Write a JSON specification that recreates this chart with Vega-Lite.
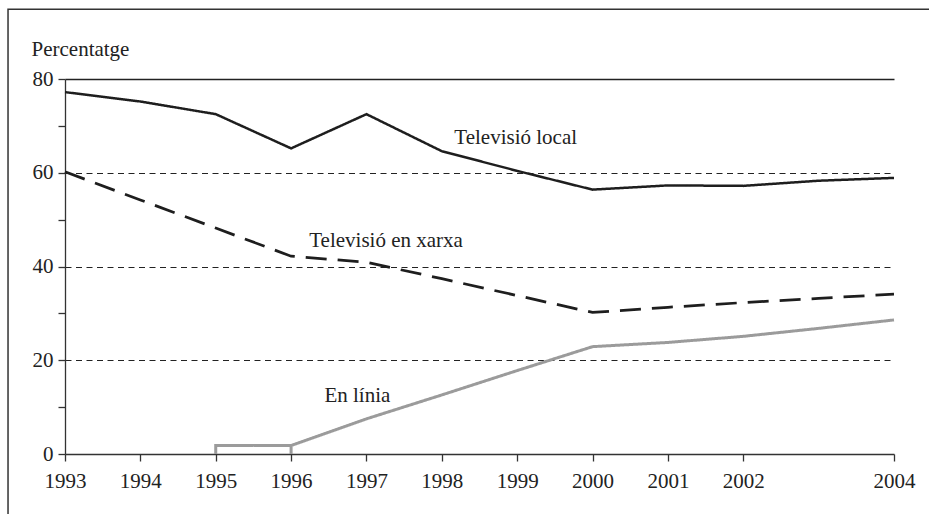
{
  "$schema": "https://vega.github.io/schema/vega-lite/v6.json",
  "autosize": {"type": "none"},
  "padding": {"left": 65, "top": 79, "right": 35, "bottom": 60},
  "width": 829,
  "height": 375,
  "background": "white",
  "config": {
    "view": {"stroke": null},
    "font": "Liberation Serif",
    "axis": {
      "labelFont": "Liberation Serif",
      "labelFontSize": 21,
      "labelColor": "#222222",
      "labelFlush": false,
      "labelOverlap": false,
      "titleFont": "Liberation Serif",
      "titleFontSize": 21,
      "titleFontWeight": "normal",
      "titleColor": "#222222",
      "domainColor": "#333333",
      "domainWidth": 1.3,
      "tickColor": "#333333",
      "tickWidth": 1.3,
      "tickSize": 7
    }
  },
  "datasets": {
    "lines": [
      {"series": "Televisió local", "i": 1, "year": 1993, "value": 77.2},
      {"series": "Televisió local", "i": 2, "year": 1994, "value": 75.2},
      {"series": "Televisió local", "i": 3, "year": 1995, "value": 72.5},
      {"series": "Televisió local", "i": 4, "year": 1996, "value": 65.2},
      {"series": "Televisió local", "i": 5, "year": 1997, "value": 72.5},
      {"series": "Televisió local", "i": 6, "year": 1998, "value": 64.6},
      {"series": "Televisió local", "i": 7, "year": 1999, "value": 60.4},
      {"series": "Televisió local", "i": 8, "year": 2000, "value": 56.4},
      {"series": "Televisió local", "i": 9, "year": 2001, "value": 57.3},
      {"series": "Televisió local", "i": 10, "year": 2002, "value": 57.2},
      {"series": "Televisió local", "i": 11, "year": 2003, "value": 58.3},
      {"series": "Televisió local", "i": 12, "year": 2004, "value": 58.9},
      {"series": "Televisió en xarxa", "i": 1, "year": 1993, "value": 60.2},
      {"series": "Televisió en xarxa", "i": 2, "year": 1994, "value": 54.2},
      {"series": "Televisió en xarxa", "i": 3, "year": 1995, "value": 48.2},
      {"series": "Televisió en xarxa", "i": 4, "year": 1996, "value": 42.2},
      {"series": "Televisió en xarxa", "i": 5, "year": 1997, "value": 40.9},
      {"series": "Televisió en xarxa", "i": 6, "year": 1998, "value": 37.4},
      {"series": "Televisió en xarxa", "i": 7, "year": 1999, "value": 33.8},
      {"series": "Televisió en xarxa", "i": 8, "year": 2000, "value": 30.2},
      {"series": "Televisió en xarxa", "i": 9, "year": 2001, "value": 31.3},
      {"series": "Televisió en xarxa", "i": 10, "year": 2002, "value": 32.3},
      {"series": "Televisió en xarxa", "i": 11, "year": 2003, "value": 33.2},
      {"series": "Televisió en xarxa", "i": 12, "year": 2004, "value": 34.1},
      {"series": "En línia", "i": 1, "year": 1995, "value": 0},
      {"series": "En línia", "i": 2, "year": 1995, "value": 1.8},
      {"series": "En línia", "i": 3, "year": 1996, "value": 1.8},
      {"series": "En línia", "i": 4, "year": 1996, "value": 0},
      {"series": "En línia", "i": 5, "year": 1996, "value": 1.8},
      {"series": "En línia", "i": 6, "year": 1997, "value": 7.5},
      {"series": "En línia", "i": 7, "year": 1998, "value": 12.6},
      {"series": "En línia", "i": 8, "year": 1999, "value": 17.8},
      {"series": "En línia", "i": 9, "year": 2000, "value": 22.9},
      {"series": "En línia", "i": 10, "year": 2001, "value": 23.8},
      {"series": "En línia", "i": 11, "year": 2002, "value": 25.1},
      {"series": "En línia", "i": 12, "year": 2003, "value": 26.8},
      {"series": "En línia", "i": 13, "year": 2004, "value": 28.6}
    ],
    "labels": [
      {"series": "Televisió local", "year": 1998.98, "value": 66.1},
      {"series": "Televisió en xarxa", "year": 1997.26, "value": 44.2},
      {"series": "En línia", "year": 1996.88, "value": 11.2}
    ]
  },
  "layer": [
    {
      "data": {"values": [{}]},
      "mark": {"type": "rect", "filled": false, "stroke": "#333333", "strokeWidth": 1.5, "clip": false},
      "encoding": {
        "x": {"datum": 1992.244, "type": "quantitative", "scale": {"domain": [1993, 2004], "nice": false, "zero": false}},
        "x2": {"datum": 2005.5},
        "y": {"datum": 94.87, "type": "quantitative", "scale": {"domain": [0, 80], "nice": false}},
        "y2": {"datum": -20}
      }
    },
    {
      "data": {"name": "lines"},
      "mark": {"type": "line", "strokeJoin": "miter", "strokeCap": "butt"},
      "encoding": {
        "x": {
          "field": "year", "type": "quantitative",
          "scale": {"domain": [1993, 2004], "nice": false, "zero": false},
          "axis": {
            "title": null,
            "values": [1993, 1994, 1995, 1996, 1997, 1998, 1999, 2000, 2001, 2002, 2004],
            "format": "d",
            "labelPadding": 9,
            "grid": false
          }
        },
        "y": {
          "field": "value", "type": "quantitative",
          "scale": {"domain": [0, 80], "nice": false},
          "axis": {
            "title": "Percentatge",
            "titleAngle": 0,
            "titleAlign": "left",
            "titleBaseline": "alphabetic",
            "titleX": -34,
            "titleY": -24,
            "values": [0, 10, 20, 30, 40, 50, 60, 70, 80],
            "labelExpr": "datum.value % 20 == 0 ? datum.label : ''",
            "labelPadding": 5,
            "grid": true,
            "gridColor": "#222222",
            "gridWidth": {"condition": {"test": "datum.value == 80", "value": 1.5}, "value": 1},
            "gridDash": {"condition": {"test": "datum.value == 80", "value": [1, 0]}, "value": [6, 4.5]},
            "gridOpacity": {"condition": {"test": "datum.value % 20 == 0 && datum.value > 0", "value": 1}, "value": 0}
          }
        },
        "detail": {"field": "series"},
        "order": {"field": "i"},
        "color": {
          "field": "series", "type": "nominal", "legend": null,
          "scale": {"domain": ["Televisió local", "Televisió en xarxa", "En línia"], "range": ["#1e1e1e", "#1e1e1e", "#9b9b9b"]}
        },
        "strokeDash": {
          "field": "series", "type": "nominal", "legend": null,
          "scale": {"domain": ["Televisió local", "Televisió en xarxa", "En línia"], "range": [[1, 0], [21, 11], [1, 0]]}
        },
        "strokeWidth": {
          "field": "series", "type": "nominal", "legend": null,
          "scale": {"domain": ["Televisió local", "Televisió en xarxa", "En línia"], "range": [2.5, 3, 2.5]}
        }
      }
    },
    {
      "data": {"name": "labels"},
      "mark": {"type": "text", "font": "Liberation Serif", "fontSize": 21, "color": "#222222", "align": "center", "baseline": "alphabetic"},
      "encoding": {
        "x": {"field": "year", "type": "quantitative"},
        "y": {"field": "value", "type": "quantitative"},
        "text": {"field": "series"}
      }
    }
  ]
}
